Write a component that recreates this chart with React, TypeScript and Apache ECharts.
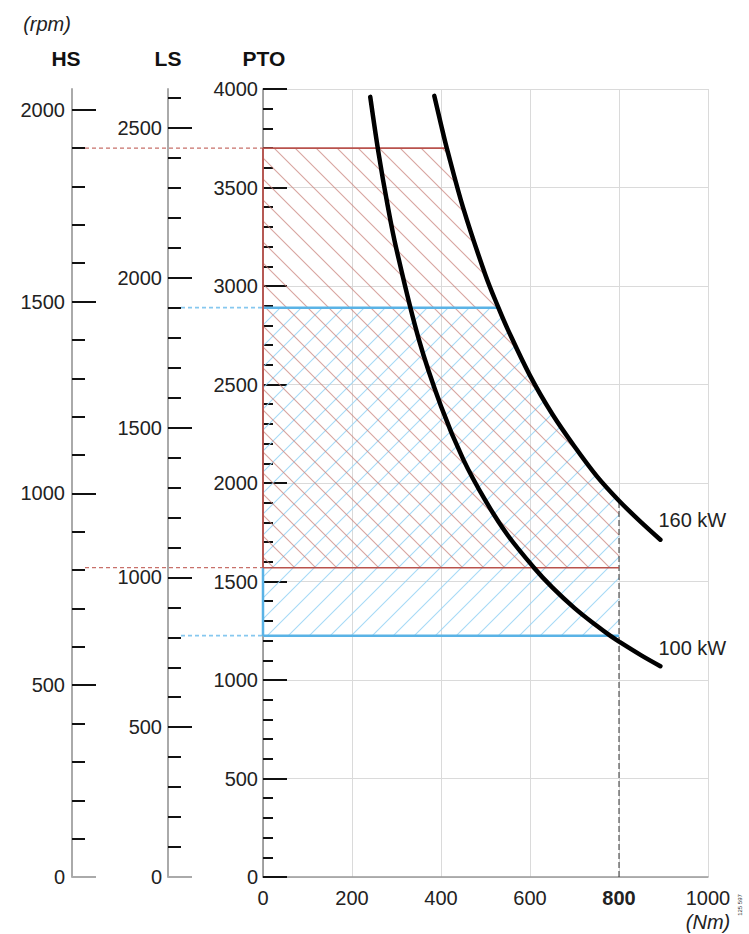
import React, { useEffect, useRef } from "react";
import * as echarts from "echarts";

// ---- data ----
const torqueTicks = [0, 200, 400, 600, 800, 1000];
const ptoTicks = [0, 500, 1000, 1500, 2000, 2500, 3000, 3500, 4000];
const hsTicks = [0, 500, 1000, 1500, 2000];
const lsTicks = [0, 500, 1000, 1500, 2000, 2500];
const hsMax = 2054;
const lsMax = 2630;

const curve160Torque = [385, 400, 413, 450, 500, 529, 550, 600, 650, 700, 750, 800, 850, 893];
const curve160Rpm = [3965, 3820, 3700, 3395, 3055, 2890, 2780, 2545, 2350, 2185, 2035, 1910, 1800, 1712];
const curve100Torque = [241, 260, 280, 300, 350, 400, 450, 500, 550, 609, 650, 700, 750, 780, 800, 850, 893];
const curve100Rpm = [3960, 3670, 3410, 3185, 2730, 2390, 2120, 1910, 1735, 1570, 1470, 1365, 1275, 1225, 1195, 1125, 1070];

const redBandRpm = [1570, 3700]; // PTO rpm (HS 800 .. 1900)
const blueBandRpm = [1225, 2890]; // PTO rpm (LS 800 .. 1900)
const redTopEndTorque = 413;
const blueTopEndTorque = 529;
const torqueLimit = 800;
const torqueLimitRpm = 1910;

// ---- layout/style ----
const FONT = '"Liberation Sans", Arial, Helvetica, sans-serif';
const GRID_LEFT = 263;
const HS_OFFSET = 191;
const LS_OFFSET = 95;
const TEXT = "#222";
const RED = "#b9524c";
const RED_DASH = "#c8706a";
const BLUE = "#5ab3e6";
const BLUE_DASH = "#86c8ef";

function stepTicks(max: number, step: number) {
  const out: number[] = [];
  for (let v = 0; v <= max; v += step) out.push(v);
  return out;
}

function hatch(color: string, dir: "back" | "fwd", size = 21, width = 1.1) {
  const c = document.createElement("canvas");
  c.width = size;
  c.height = size;
  const ctx = c.getContext("2d")!;
  ctx.strokeStyle = color;
  ctx.lineWidth = width;
  ctx.beginPath();
  if (dir === "back") {
    ctx.moveTo(0, 0);
    ctx.lineTo(size, size);
    ctx.moveTo(-2, size - 2);
    ctx.lineTo(2, size + 2);
    ctx.moveTo(size - 2, -2);
    ctx.lineTo(size + 2, 2);
  } else {
    ctx.moveTo(0, size);
    ctx.lineTo(size, 0);
    ctx.moveTo(-2, 2);
    ctx.lineTo(2, -2);
    ctx.moveTo(size - 2, size + 2);
    ctx.lineTo(size + 2, size - 2);
  }
  ctx.stroke();
  return { image: c.toDataURL(), repeat: "repeat", imageWidth: size, imageHeight: size };
}

function regionPolygon(low: number, high: number, topEnd: number) {
  const pts: number[][] = [
    [0, low],
    [0, high],
    [topEnd, high],
  ];
  curve160Torque.forEach((t, i) => {
    if (t > topEnd && t < torqueLimit) pts.push([t, curve160Rpm[i]]);
  });
  pts.push([torqueLimit, torqueLimitRpm]);
  pts.push([torqueLimit, low]);
  return pts;
}

const plain = (v: number) => String(v);

export default function App() {
  const ref = useRef<HTMLDivElement>(null);

  useEffect(() => {
    if (!ref.current) return;
    const chart = echarts.init(ref.current, null, { renderer: "svg" });

    const redPattern = hatch("rgba(200,125,118,0.7)", "back");
    const bluePattern = hatch("rgba(150,210,243,0.85)", "fwd");

    const redPoly = regionPolygon(redBandRpm[0], redBandRpm[1], redTopEndTorque);
    const bluePoly = regionPolygon(blueBandRpm[0], blueBandRpm[1], blueTopEndTorque);

    const tickStyle = { color: "#111", width: 2 };
    const labelBase = { fontSize: 20, color: TEXT, fontFamily: FONT };

    const option: any = {
      animation: false,
      backgroundColor: "#ffffff",
      textStyle: { fontFamily: FONT },
      grid: { left: GRID_LEFT, right: 41, top: 89, bottom: 57, containLabel: false },
      xAxis: {
        type: "value",
        min: torqueTicks[0],
        max: torqueTicks[torqueTicks.length - 1],
        interval: 200,
        axisLine: { show: true, lineStyle: { color: "#999", width: 1.5 } },
        axisTick: { show: false },
        splitLine: { show: true, lineStyle: { color: "#dadada", width: 1 } },
        axisLabel: {
          ...labelBase,
          margin: 9,
          lineHeight: 24,
          formatter: (v: number) =>
            v === torqueLimit ? "{b|" + v + "}" : v === 1000 ? v + "\n{u|(Nm)}" : String(v),
          rich: {
            b: { fontWeight: "bold", fontSize: 20, color: TEXT, lineHeight: 24 },
            u: { fontStyle: "italic", fontSize: 20, color: TEXT, lineHeight: 24 },
          },
        },
      },
      yAxis: [
        {
          type: "value",
          position: "left",
          min: 0,
          max: ptoTicks[ptoTicks.length - 1],
          interval: 500,
          axisLine: { show: true, lineStyle: { color: "#888", width: 1.5 } },
          axisTick: { show: true, inside: true, length: 24, lineStyle: tickStyle },
          minorTick: { show: true, splitNumber: 5, length: 10, lineStyle: tickStyle },
          splitLine: { show: true, lineStyle: { color: "#dadada", width: 1 } },
          axisLabel: { ...labelBase, margin: 5, formatter: plain },
        },
        {
          type: "value",
          position: "left",
          offset: HS_OFFSET,
          min: 0,
          max: hsMax,
          axisLine: { show: true, lineStyle: { color: "#aaa", width: 2 } },
          axisTick: { show: true, inside: true, length: 24, customValues: hsTicks.slice(1), lineStyle: tickStyle },
          axisLabel: { ...labelBase, margin: 7, customValues: hsTicks, formatter: plain },
          splitLine: { show: false },
        },
        {
          type: "value",
          position: "left",
          offset: HS_OFFSET,
          min: 0,
          max: hsMax,
          axisLine: { show: false },
          axisTick: { show: true, inside: true, length: 13, customValues: stepTicks(2000, 100).filter((v) => v % 500 !== 0), lineStyle: tickStyle },
          axisLabel: { show: false },
          splitLine: { show: false },
        },
        {
          type: "value",
          position: "left",
          offset: HS_OFFSET,
          min: 0,
          max: hsMax,
          axisLine: { show: false },
          axisTick: { show: true, inside: true, length: 24, customValues: [0], lineStyle: { color: "#aaa", width: 2 } },
          axisLabel: { show: false },
          splitLine: { show: false },
        },
        {
          type: "value",
          position: "left",
          offset: LS_OFFSET,
          min: 0,
          max: lsMax,
          axisLine: { show: true, lineStyle: { color: "#aaa", width: 2 } },
          axisTick: { show: true, inside: true, length: 24, customValues: lsTicks.slice(1), lineStyle: tickStyle },
          axisLabel: { ...labelBase, margin: 6, customValues: lsTicks, formatter: plain },
          splitLine: { show: false },
        },
        {
          type: "value",
          position: "left",
          offset: LS_OFFSET,
          min: 0,
          max: lsMax,
          axisLine: { show: false },
          axisTick: { show: true, inside: true, length: 13, customValues: stepTicks(2600, 100).filter((v) => v % 500 !== 0), lineStyle: tickStyle },
          axisLabel: { show: false },
          splitLine: { show: false },
        },
        {
          type: "value",
          position: "left",
          offset: LS_OFFSET,
          min: 0,
          max: lsMax,
          axisLine: { show: false },
          axisTick: { show: true, inside: true, length: 24, customValues: [0], lineStyle: { color: "#aaa", width: 2 } },
          axisLabel: { show: false },
          splitLine: { show: false },
        },
      ],
      graphic: [
        { type: "text", x: 47, y: 24, style: { text: "(rpm)", font: `italic 20px ${FONT}`, fill: TEXT, align: "center", verticalAlign: "middle" } },
        { type: "text", x: 66, y: 58, style: { text: "HS", font: `bold 21px ${FONT}`, fill: "#111", align: "center", verticalAlign: "middle" } },
        { type: "text", x: 168, y: 58, style: { text: "LS", font: `bold 21px ${FONT}`, fill: "#111", align: "center", verticalAlign: "middle" } },
        { type: "text", x: 264, y: 58, style: { text: "PTO", font: `bold 21px ${FONT}`, fill: "#111", align: "center", verticalAlign: "middle" } },
        { type: "text", x: 740, y: 905, rotation: Math.PI / 2, style: { text: "125 597", font: `6px ${FONT}`, fill: "#333", align: "center", verticalAlign: "middle" } },
      ],
      series: [
        {
          type: "custom",
          name: "blueRegion",
          coordinateSystem: "cartesian2d",
          clip: false,
          silent: true,
          data: [[0, 0]],
          renderItem: (_p: any, api: any) => ({
            type: "polygon",
            shape: { points: bluePoly.map((p) => api.coord(p)) },
            style: { fill: bluePattern, stroke: "none" },
          }),
          z: 1,
        },
        {
          type: "custom",
          name: "redRegion",
          coordinateSystem: "cartesian2d",
          clip: false,
          silent: true,
          data: [[0, 0]],
          renderItem: (_p: any, api: any) => ({
            type: "polygon",
            shape: { points: redPoly.map((p) => api.coord(p)) },
            style: { fill: redPattern, stroke: "none" },
          }),
          z: 2,
        },
        {
          type: "custom",
          name: "bounds",
          coordinateSystem: "cartesian2d",
          clip: false,
          silent: true,
          data: [[0, 0]],
          renderItem: (_p: any, api: any) => {
            const seg = (a: number[], b: number[], stroke: string, lineWidth: number, lineDash?: number[]) => {
              const p1 = api.coord(a);
              const p2 = api.coord(b);
              return {
                type: "line",
                shape: { x1: p1[0], y1: p1[1], x2: p2[0], y2: p2[1] },
                style: { stroke, lineWidth, lineDash: lineDash || null, fill: "none" },
              };
            };
            const ext = (v: number, offset: number, stroke: string, lineWidth: number) => {
              const p = api.coord([0, v]);
              return {
                type: "line",
                shape: { x1: p[0] - offset + 13, y1: p[1], x2: p[0], y2: p[1] },
                style: { stroke, lineWidth, lineDash: [4, 3], fill: "none" },
              };
            };
            return {
              type: "group",
              children: [
                seg([torqueLimit, 0], [torqueLimit, torqueLimitRpm], "#333", 1, [6, 3]),
                ext(redBandRpm[1], HS_OFFSET, RED_DASH, 1.3),
                ext(redBandRpm[0], HS_OFFSET, RED_DASH, 1.3),
                ext(blueBandRpm[1], LS_OFFSET, BLUE_DASH, 1.8),
                ext(blueBandRpm[0], LS_OFFSET, BLUE_DASH, 1.8),
                seg([0, blueBandRpm[1]], [blueTopEndTorque, blueBandRpm[1]], BLUE, 2.5),
                seg([0, blueBandRpm[0]], [torqueLimit, blueBandRpm[0]], BLUE, 2.5),
                seg([0, blueBandRpm[0]], [0, redBandRpm[0]], BLUE, 2.5),
                seg([0, redBandRpm[1]], [redTopEndTorque, redBandRpm[1]], RED, 1.6),
                seg([0, redBandRpm[0]], [torqueLimit, redBandRpm[0]], RED, 1.6),
                seg([0, redBandRpm[0]], [0, redBandRpm[1]], RED, 1.8),
              ],
            };
          },
          z: 3,
        },
        {
          type: "line",
          name: "160 kW",
          data: curve160Torque.map((t, i) => [t, curve160Rpm[i]]),
          smooth: 0.35,
          symbol: "none",
          lineStyle: { color: "#000", width: 4.5, cap: "round" },
          endLabel: { show: true, formatter: "160 kW", fontSize: 20, color: TEXT, fontFamily: FONT, offset: [-10, -20] },
          z: 5,
        },
        {
          type: "line",
          name: "100 kW",
          data: curve100Torque.map((t, i) => [t, curve100Rpm[i]]),
          smooth: 0.35,
          symbol: "none",
          lineStyle: { color: "#000", width: 4.5, cap: "round" },
          endLabel: { show: true, formatter: "100 kW", fontSize: 20, color: TEXT, fontFamily: FONT, offset: [-10, -18] },
          z: 5,
        },
      ],
    };

    chart.setOption(option);
    return () => chart.dispose();
  }, []);

  return (
    <div
      ref={ref}
      style={{ position: "fixed", left: 0, top: 0, width: 749, height: 934, background: "#fff" }}
    />
  );
}
